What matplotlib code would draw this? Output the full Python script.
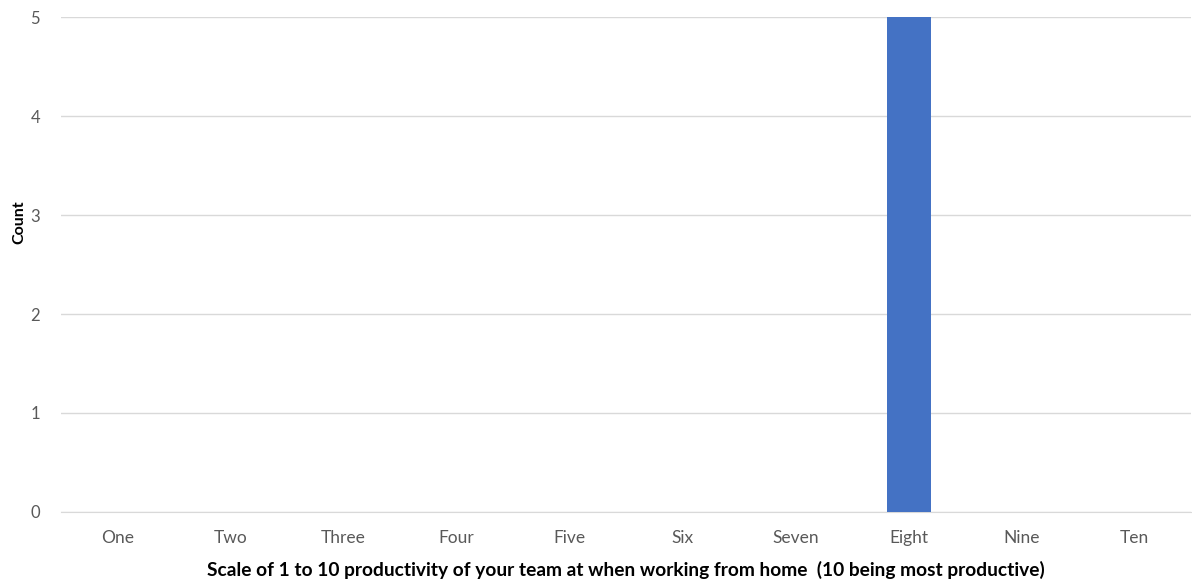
import matplotlib
matplotlib.use("Agg")
import matplotlib.pyplot as plt

categories = ["One", "Two", "Three", "Four", "Five", "Six", "Seven", "Eight", "Nine", "Ten"]
counts = [0, 0, 0, 0, 0, 0, 0, 5, 0, 0]
y_ticks = [0, 1, 2, 3, 4, 5]

plt.rcParams["font.family"] = ["Lato", "DejaVu Sans"]

fig = plt.figure(figsize=(11.92, 5.83), dpi=100)
ax = fig.add_axes([0.0512, 0.1218, 0.948, 0.849])

x = list(range(len(categories)))
ax.bar(x, counts, width=0.39, color="#4472C4", zorder=3)

ax.set_xlim(-0.5, len(categories) - 0.5)
ax.set_ylim(0, 5)
ax.set_yticks(y_ticks)
ax.set_xticks(x)
ax.set_xticklabels(categories)
ax.grid(axis="y", color="#D9D9D9", linewidth=1, zorder=0)
ax.set_axisbelow(True)

for s in ["top", "right", "left"]:
    ax.spines[s].set_visible(False)
ax.spines["bottom"].set_color("#D9D9D9")
ax.tick_params(axis="both", length=0, labelcolor="#595959")
ax.tick_params(axis="x", labelsize=12.5, pad=13)
ax.tick_params(axis="y", labelsize=12, pad=15)

ax.set_xlabel("Scale of 1 to 10 productivity of your team at when working from home  (10 being most productive)",
              fontsize=13.8, fontweight="bold", color="#000000", labelpad=11)
ax.set_ylabel("Count", fontsize=11.5, fontweight="bold", color="#000000")
ax.yaxis.set_label_coords(-0.031, 0.586)

fig.savefig("out.png", dpi=100)
